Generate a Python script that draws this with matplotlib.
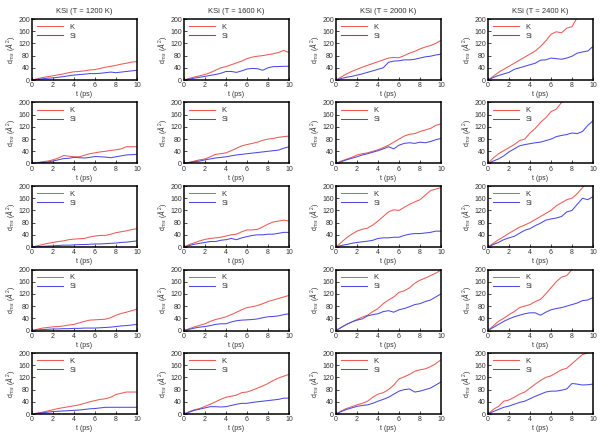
import numpy as np
import matplotlib
matplotlib.use('Agg')
import matplotlib.pyplot as plt

plt.rcParams['font.family'] = ['Liberation Sans', 'DejaVu Sans']
plt.rcParams['mathtext.fontset'] = 'custom'
plt.rcParams['mathtext.rm'] = 'Liberation Sans'

# time axis (ps)
t = np.arange(0, 10.5, 0.5)

temps = ['1200', '1600', '2000', '2400']

# rows top -> bottom, columns 1200 K .. 2400 K
K11 = [0, 4, 8, 11, 14, 17, 20, 24, 27, 28, 30, 33, 34, 38, 42, 45, 48, 52, 55, 59, 60]
Si11 = [0, 2, 4, 6, 7, 9, 11, 14, 16, 18, 19, 21, 21, 22, 24, 26, 24, 26, 28, 30, 32]
K12 = [0, 5, 10, 14, 18, 24, 32, 40, 44, 50, 56, 62, 70, 75, 78, 80, 83, 86, 90, 97, 90]
Si12 = [0, 3, 6, 9, 12, 15, 18, 22, 28, 28, 25, 30, 36, 38, 37, 32, 40, 44, 44, 45, 45]
K13 = [0, 10, 20, 28, 35, 42, 48, 54, 60, 66, 72, 74, 73, 80, 88, 94, 102, 108, 113, 120, 130]
Si13 = [0, 5, 9, 12, 16, 20, 25, 30, 35, 40, 58, 62, 63, 66, 66, 68, 72, 76, 78, 82, 85]
K14 = [0, 12, 25, 35, 45, 55, 65, 75, 85, 95, 110, 128, 150, 158, 155, 170, 175, 205, 230, 250, 270]
Si14 = [0, 8, 15, 20, 25, 35, 40, 45, 50, 55, 65, 66, 72, 70, 68, 72, 78, 88, 92, 95, 110]

K21 = [0, 3, 6, 8, 12, 18, 26, 24, 22, 22, 27, 32, 35, 38, 40, 43, 45, 48, 55, 55, 55]
Si21 = [0, 2, 3, 5, 8, 12, 16, 17, 20, 19, 18, 20, 23, 22, 21, 19, 22, 25, 28, 29, 30]
K22 = [0, 4, 8, 12, 15, 22, 30, 32, 35, 42, 50, 58, 62, 66, 70, 76, 80, 82, 86, 88, 90]
Si22 = [0, 3, 6, 8, 12, 15, 18, 20, 22, 25, 28, 30, 32, 34, 36, 38, 40, 42, 44, 50, 55]
K23 = [0, 8, 14, 20, 28, 32, 35, 40, 45, 52, 60, 70, 80, 90, 96, 98, 105, 110, 115, 125, 130]
Si23 = [0, 6, 12, 17, 22, 28, 32, 37, 42, 48, 55, 48, 60, 66, 68, 66, 70, 68, 72, 78, 82]
K24 = [0, 18, 32, 42, 52, 62, 75, 80, 100, 115, 135, 150, 170, 178, 200, 210, 220, 230, 240, 250, 260]
Si24 = [0, 8, 15, 25, 38, 48, 58, 62, 65, 68, 70, 75, 80, 88, 92, 95, 100, 98, 105, 125, 140]

K31 = [0, 4, 8, 12, 15, 18, 20, 24, 26, 27, 28, 33, 36, 38, 38, 42, 47, 50, 53, 57, 60]
Si31 = [0, 1, 2, 3, 4, 5, 6, 6, 7, 8, 8, 9, 10, 10, 11, 12, 13, 15, 16, 18, 20]
K32 = [0, 8, 14, 20, 25, 28, 30, 32, 36, 40, 42, 50, 56, 56, 58, 66, 75, 82, 85, 88, 85]
Si32 = [0, 5, 9, 12, 15, 18, 18, 22, 24, 28, 24, 30, 34, 38, 40, 40, 42, 42, 45, 48, 48]
K33 = [0, 15, 30, 42, 52, 58, 62, 72, 85, 100, 115, 122, 120, 130, 140, 148, 155, 170, 185, 190, 195]
Si33 = [0, 5, 8, 12, 15, 17, 19, 22, 28, 30, 30, 32, 32, 38, 42, 44, 44, 46, 48, 52, 52]
K34 = [0, 12, 24, 34, 45, 55, 65, 72, 80, 90, 100, 110, 120, 135, 145, 155, 160, 175, 195, 210, 220]
Si34 = [0, 8, 15, 24, 30, 35, 45, 55, 60, 70, 78, 88, 92, 95, 100, 115, 120, 140, 160, 155, 165]

K41 = [0, 4, 8, 10, 12, 13, 15, 18, 20, 25, 30, 34, 35, 36, 37, 42, 50, 56, 60, 65, 70]
Si41 = [0, 2, 3, 4, 5, 5, 6, 6, 7, 7, 8, 8, 8, 9, 10, 11, 13, 15, 16, 18, 20]
K42 = [0, 6, 12, 17, 22, 30, 36, 40, 45, 52, 60, 68, 75, 78, 82, 88, 95, 100, 105, 110, 115]
Si42 = [0, 4, 8, 11, 13, 16, 20, 22, 22, 28, 32, 34, 35, 36, 38, 42, 45, 46, 48, 52, 55]
K43 = [0, 10, 20, 28, 36, 44, 50, 62, 72, 88, 100, 110, 125, 130, 140, 155, 165, 172, 180, 188, 198]
Si43 = [0, 10, 20, 28, 34, 38, 48, 52, 55, 62, 65, 60, 68, 72, 78, 85, 88, 95, 100, 110, 120]
K44 = [0, 15, 30, 40, 52, 62, 75, 80, 85, 95, 102, 120, 140, 160, 175, 180, 200, 215, 230, 245, 260]
Si44 = [0, 10, 20, 30, 38, 45, 50, 55, 58, 58, 50, 60, 68, 72, 75, 80, 85, 90, 98, 100, 108]

K51 = [0, 3, 6, 10, 14, 18, 21, 24, 27, 30, 35, 40, 44, 48, 50, 55, 64, 68, 72, 72, 72]
Si51 = [0, 2, 4, 6, 8, 9, 10, 11, 12, 13, 15, 17, 18, 20, 22, 22, 22, 22, 22, 22, 22]
K52 = [0, 8, 14, 18, 25, 32, 40, 48, 55, 58, 62, 70, 72, 78, 85, 92, 100, 110, 118, 124, 130]
Si52 = [0, 6, 12, 16, 20, 24, 24, 23, 24, 28, 32, 35, 35, 38, 40, 42, 44, 46, 48, 52, 52]
K53 = [0, 10, 18, 24, 30, 35, 42, 55, 65, 70, 80, 95, 115, 122, 130, 140, 145, 148, 155, 165, 178]
Si53 = [0, 8, 15, 20, 25, 28, 30, 35, 42, 48, 55, 65, 75, 80, 82, 72, 75, 80, 85, 95, 105]
K54 = [0, 15, 25, 42, 46, 55, 65, 72, 85, 98, 110, 120, 125, 135, 145, 150, 165, 180, 195, 200, 210]
Si54 = [0, 8, 15, 22, 26, 32, 38, 42, 50, 58, 65, 72, 75, 75, 78, 82, 100, 98, 95, 96, 98]

K_rows = [[K11, K12, K13, K14], [K21, K22, K23, K24], [K31, K32, K33, K34],
          [K41, K42, K43, K44], [K51, K52, K53, K54]]
Si_rows = [[Si11, Si12, Si13, Si14], [Si21, Si22, Si23, Si24], [Si31, Si32, Si33, Si34],
           [Si41, Si42, Si43, Si44], [Si51, Si52, Si53, Si54]]

W, H = 609, 440
fig = plt.figure(figsize=(W / 100, H / 100), dpi=100)

lefts = [32, 184, 336, 488]
tops = [19, 102.5, 186, 269.5, 353]
aw, ah = 105, 61
txt = '#333333'

for i in range(5):
    for j in range(4):
        ax = fig.add_axes([lefts[j] / W, 1 - (tops[i] + ah) / H, aw / W, ah / H])
        ax.plot(t, K_rows[i][j], color='#ec5a55', lw=0.75, label='K')
        ax.plot(t, Si_rows[i][j], color='#4a4ae6', lw=0.75, label='Si')
        ax.set_xlim(0, 10)
        ax.set_ylim(0, 200)
        ax.set_xticks(range(0, 11, 2))
        ax.set_yticks(range(0, 201, 40))
        ax.tick_params(labelsize=5, length=2, width=0.5, direction='in', pad=1.5,
                       labelcolor=txt)
        for s in ax.spines.values():
            s.set_linewidth(1.1)
        ax.set_xlabel('t (ps)', fontsize=5, labelpad=1.5, color=txt)
        ax.set_ylabel(r'd$_{ms}$ ($\AA^2$)', fontsize=5, labelpad=1, color=txt)
        leg = ax.legend(loc='upper left', frameon=False, fontsize=5.5, handlelength=3.5,
                        handletextpad=0.8, labelspacing=0.2, borderaxespad=0.2)
        for tx in leg.get_texts():
            tx.set_color(txt)
        if i == 0:
            ax.set_title('KSi (T = %s K)' % temps[j], fontsize=5.5, pad=4, color=txt)

fig.savefig('out.png', dpi=100)
